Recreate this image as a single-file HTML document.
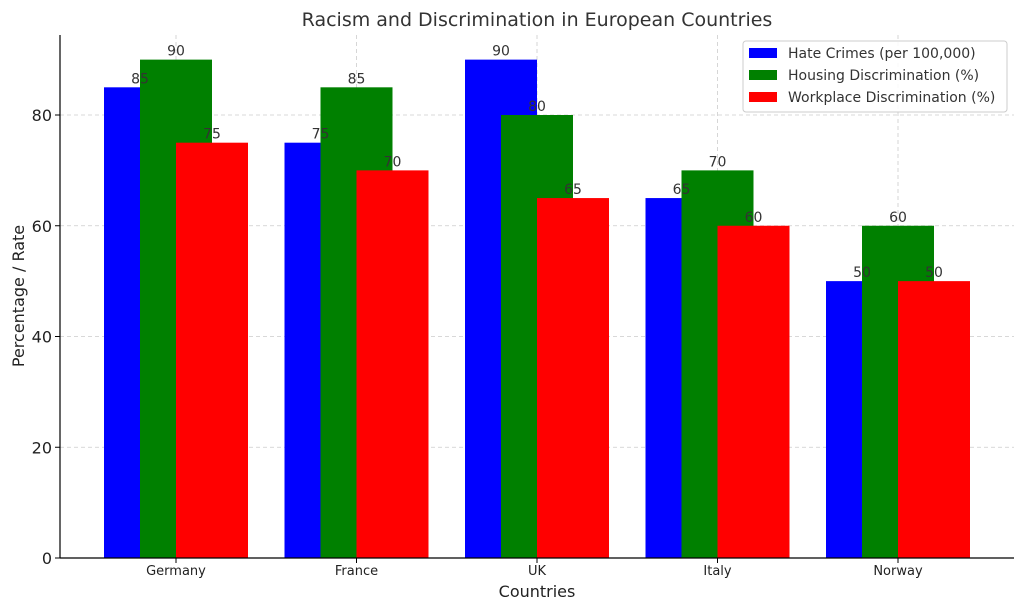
<!DOCTYPE html>
<html><head><meta charset="utf-8"><style>
body{margin:0;background:#fff;font-family:"Liberation Sans","DejaVu Sans",sans-serif;}
svg text{font-family:"DejaVu Sans","Liberation Sans",sans-serif;}
</style></head><body>
<svg id="chart" width="1024" height="611" viewBox="0 0 1024 611">
<text x="537" y="26" text-anchor="middle" font-size="19" fill="#333">Racism and Discrimination in European Countries</text>
<g id="grid"></g><g id="bars"></g><g id="labels"></g><g id="axes"></g>
<text x="537" y="597" text-anchor="middle" font-size="16" fill="#222">Countries</text>
<text transform="translate(24,296) rotate(-90)" text-anchor="middle" font-size="16" fill="#222">Percentage / Rate</text>
<g>
<rect x="743" y="41" width="264" height="71" fill="#fff" fill-opacity="0.85" stroke="#ccc" rx="3"/>
<g><rect x="749" y="48" width="28" height="10" fill="#0000ff"/><text x="788" y="58" font-size="14" fill="#333">Hate Crimes (per 100,000)</text></g>
<g><rect x="749" y="70" width="28" height="10" fill="#008000"/><text x="788" y="80" font-size="14" fill="#333">Housing Discrimination (%)</text></g>
<g><rect x="749" y="92" width="28" height="10" fill="#ff0000"/><text x="788" y="102" font-size="14" fill="#333">Workplace Discrimination (%)</text></g>
</g>
</svg>
<script>
const categories=["Germany","France","UK","Italy","Norway"];
const hateCrimes=[85,75,90,65,50];
const housing=[90,85,80,70,60];
const workplace=[75,70,65,60,50];
const yTicks=[0,20,40,60,80];
const NS="http://www.w3.org/2000/svg";
const x0=60,x1=1014,yBase=558,yTop=35;
function xScale(i){return 176+i*180.5;}
function yScale(v){return yBase-v*5.5375;}
function mk(tag,attrs,parent){const e=document.createElementNS(NS,tag);for(const k in attrs)e.setAttribute(k,attrs[k]);document.getElementById(parent).appendChild(e);return e;}
yTicks.forEach(t=>{
 const g=mk('line',{x1:x0,x2:x1,y1:yScale(t),y2:yScale(t),stroke:'#ccc','stroke-dasharray':'4,3','stroke-width':0.8},'grid');
 
 
 mk('line',{x1:x0-5,x2:x0,y1:yScale(t),y2:yScale(t),stroke:'#000'},'axes');
 const tx=mk('text',{x:x0-8,y:yScale(t)+6,'text-anchor':'end','font-size':16,fill:'#222'},'axes');
 tx.textContent=t;
 
 
});
categories.forEach((c,i)=>{
 const g=mk('line',{x1:xScale(i),x2:xScale(i),y1:yTop,y2:yBase,stroke:'#ccc','stroke-dasharray':'4,3','stroke-width':0.8},'grid');
 
 
 mk('line',{x1:xScale(i),x2:xScale(i),y1:yBase,y2:yBase+5,stroke:'#000'},'axes');
 const tx=mk('text',{x:xScale(i),y:yBase+17,'text-anchor':'middle','font-size':13,fill:'#222'},'axes');
 tx.textContent=c;
 
 
});
const series=[[hateCrimes,'#0000ff',-36,'hate-crimes'],[housing,'#008000',0,'housing'],[workplace,'#ff0000',36,'workplace']];
series.forEach(([vals,col,off,nm])=>{
 vals.forEach((v,i)=>{
  const cx=xScale(i)+off;
  const r=mk('rect',{x:cx-36,y:yScale(v),width:72,height:yBase-yScale(v),fill:col},'bars');
  
  
  const t=mk('text',{x:cx,y:yScale(v)-4,'text-anchor':'middle','font-size':14,fill:'#333'},'labels');
  t.textContent=v;
  
  
 });
});
mk('line',{x1:x0,x2:x0,y1:yTop,y2:yBase,stroke:'#000','stroke-width':1.2},'axes');
mk('line',{x1:x0,x2:x1,y1:yBase,y2:yBase,stroke:'#000','stroke-width':1.2},'axes');
</script>
</body></html>
